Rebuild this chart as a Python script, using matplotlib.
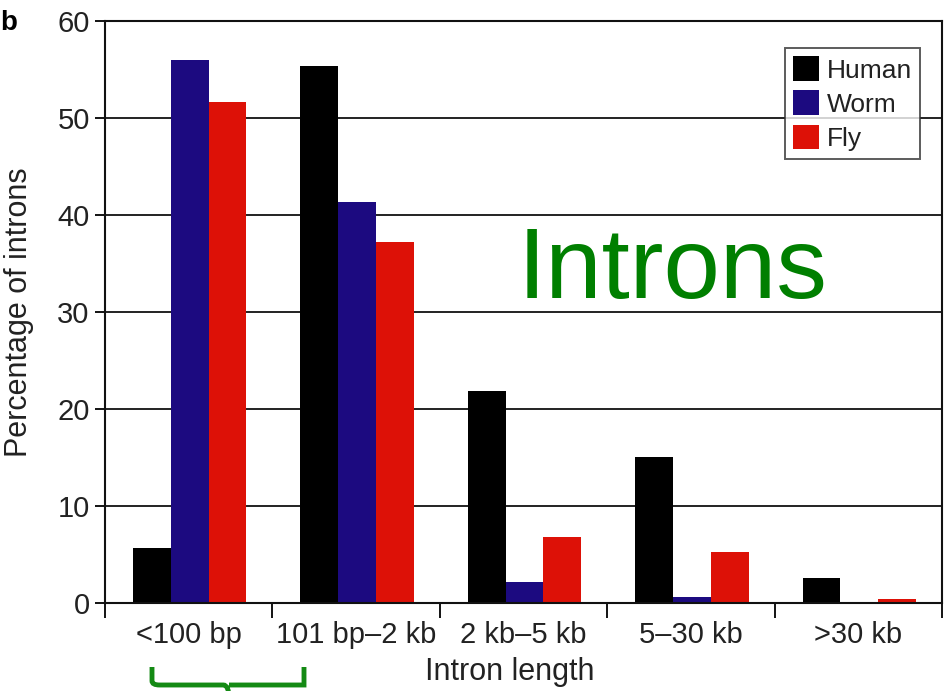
import numpy as np
import matplotlib.pyplot as plt
from matplotlib.patches import PathPatch
from matplotlib.path import Path

plt.rcParams['font.family'] = ['Liberation Sans', 'DejaVu Sans']

# Intron length classes
categories = ['<100 bp', '101 bp\u20132 kb', '2 kb\u20135 kb', '5\u201330 kb', '>30 kb']

# Percentage of introns per species
human = [5.7, 55.4, 21.9, 15.1, 2.6]
worm = [56.0, 41.3, 2.2, 0.6, 0.0]
fly = [51.6, 37.2, 6.8, 5.3, 0.4]

series = [('Human', human, '#000000'),
          ('Worm', worm, '#1c0a80'),
          ('Fly', fly, '#dd1107')]

fig = plt.figure(figsize=(9.44, 6.91), dpi=100)
ax = fig.add_axes([0.1112, 0.1274, 0.8868, 0.8422])

x = np.arange(len(categories))
w = 0.226
for i, (name, vals, col) in enumerate(series):
    ax.bar(x + (i - 1) * w + 0.006, vals, width=w, color=col, label=name, zorder=2)

ax.set_xlim(-0.5, len(categories) - 0.5)
ax.set_ylim(0, 60)
ax.set_yticks(range(0, 61, 10))
ax.yaxis.grid(True, color='#111111', linewidth=1.3, zorder=0)
ax.set_axisbelow(True)

# ticks at the class boundaries, labels centred under each group
ax.set_xticks(np.arange(-0.5, len(categories)), minor=False)
ax.set_xticklabels([])
ax.set_xticks(x, minor=True)
ax.set_xticklabels(categories, minor=True)
ax.tick_params(axis='x', which='major', length=11, width=1.3, direction='out')
ax.tick_params(axis='x', which='minor', length=0, pad=13, labelsize=21, labelcolor='#222222')
ax.tick_params(axis='y', length=7, width=1.3, labelsize=21, labelcolor='#222222', pad=4)

for s in ax.spines.values():
    s.set_linewidth(1.5)
    s.set_color('#111111')

ax.set_xlabel('Intron length', fontsize=22, color='#222222')
ax.xaxis.set_label_coords(0.483, -0.1186)
ax.xaxis.label.set_va('center')
ax.set_ylabel('Percentage of introns', fontsize=22, color='#222222')
ax.yaxis.set_label_coords(-0.085, 0.5)

leg = ax.legend(loc='upper right', bbox_to_anchor=(0.98, 0.962), fontsize=19,
                frameon=True, fancybox=False, handlelength=1.0, handleheight=1.05,
                handletextpad=0.3, borderpad=0.3, labelspacing=0.3, borderaxespad=0.2)
leg.get_frame().set_edgecolor('#333333')
leg.get_frame().set_linewidth(1.4)
for t in leg.get_texts():
    t.set_color('#222222')

ax.text(0.6775, 0.524, 'Introns', transform=ax.transAxes, fontsize=73,
        color='#007f00', ha='center', va='baseline')

fig.text(0.0, 0.967, 'b', fontsize=20, fontweight='bold', ha='left', va='center')

# green curly bracket under the first class
x0, x1, xm = 152 / 944, 304 / 944, 229 / 944
yt, yb = 1 - 667 / 691, 1 - 685 / 691
verts = [(x0, yt), (x0, yb + 0.006), (x0, yb), (x0 + 0.008, yb), (xm - 0.006, yb),
         (xm, yb), (xm, yb - 0.02),
         (xm, yb), (xm + 0.006, yb), (x1 - 0.008, yb), (x1, yb), (x1, yb + 0.006), (x1, yt)]
codes = [Path.MOVETO, Path.LINETO, Path.CURVE3, Path.CURVE3, Path.LINETO,
         Path.CURVE3, Path.CURVE3,
         Path.MOVETO, Path.CURVE3, Path.CURVE3, Path.LINETO, Path.CURVE3, Path.CURVE3]
fig.patches.append(PathPatch(Path(verts, codes), transform=fig.transFigure,
                             fill=False, edgecolor='#148a14', linewidth=3.5,
                             clip_on=False))

fig.savefig('out.png', dpi=100)
